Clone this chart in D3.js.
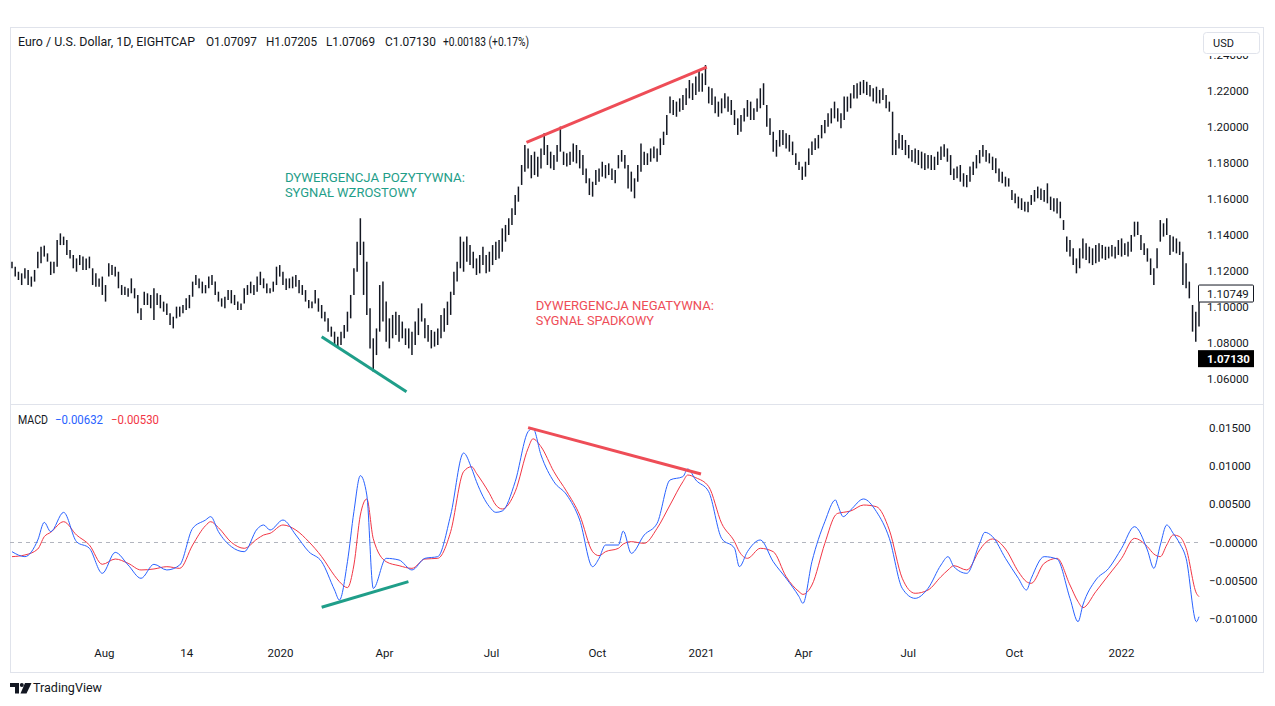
<!DOCTYPE html>
<html><head><meta charset="utf-8">
<script src="https://cdn.jsdelivr.net/npm/d3@7"></script>
<style>
html,body{margin:0;padding:0;background:#fff;}
svg{display:block;font-family:Roboto,"Open Sans",sans-serif;}
</style></head><body>
<svg id="c" width="1275" height="706"></svg>
<script>
// ---- DATA (2-trading-day bars, high / low) ----
const barHigh = [
1.1252,1.1224,1.1196,1.1187,1.1215,1.1206,1.1169,1.1206,1.1307,1.1335,
1.1341,1.1298,1.1252,1.1252,1.1372,1.1409,1.1391,1.1372,1.1317,1.1289,
1.1270,1.1289,1.1280,1.1270,1.1280,1.1215,1.1187,1.1159,1.1169,1.1122,
1.1243,1.1233,1.1224,1.1196,1.1122,1.1113,1.1104,1.1159,1.1104,1.1067,
1.0993,1.1085,1.1076,1.1067,1.1104,1.1076,1.1067,1.1030,1.1020,1.0965,
1.0946,1.1002,1.1002,1.1011,1.1048,1.1067,1.1141,1.1178,1.1159,1.1141,
1.1122,1.1169,1.1178,1.1141,1.1085,1.1048,1.1057,1.1094,1.1094,1.1067,
1.1030,1.1020,1.1104,1.1122,1.1141,1.1122,1.1169,1.1196,1.1159,1.1131,
1.1104,1.1141,1.1224,1.1233,1.1196,1.1159,1.1159,1.1169,1.1178,1.1150,
1.1122,1.1094,1.1039,1.1030,1.1094,1.1048,1.1011,1.0974,1.0937,1.0891,
1.0863,1.0835,1.0863,1.0900,1.0974,1.1067,1.1215,1.1363,1.1493,1.1363,
1.1252,1.0993,1.0826,1.0881,1.1122,1.1141,1.1030,1.0937,1.0956,1.0974,
1.0956,1.0919,1.0881,1.0881,1.0863,1.0919,1.0993,1.1020,1.0937,1.0900,
1.0872,1.0863,1.0881,1.0956,1.0993,1.1030,1.1085,1.1196,1.1252,1.1391,
1.1363,1.1391,1.1344,1.1307,1.1270,1.1289,1.1335,1.1289,1.1307,1.1344,
1.1363,1.1372,1.1437,1.1456,1.1493,1.1548,1.1622,1.1669,1.1789,1.1900,
1.1881,1.1844,1.1863,1.1835,1.1881,1.1965,1.1900,1.1863,1.1844,1.1900,
1.2002,1.1863,1.1854,1.1863,1.1909,1.1900,1.1872,1.1844,1.1770,1.1715,
1.1696,1.1761,1.1770,1.1807,1.1789,1.1798,1.1770,1.1761,1.1844,1.1872,
1.1844,1.1789,1.1752,1.1715,1.1789,1.1909,1.1863,1.1854,1.1881,1.1891,
1.1881,1.1937,1.1974,1.2067,1.2169,1.2150,1.2141,1.2159,1.2178,1.2215,
1.2261,1.2243,1.2280,1.2317,1.2298,1.2344,1.2224,1.2215,1.2169,1.2141,
1.2159,1.2187,1.2169,1.2150,1.2094,1.2048,1.2067,1.2104,1.2150,1.2141,
1.2104,1.2159,1.2215,1.2243,1.2122,1.2048,1.1974,1.1928,1.1983,1.1983,
1.1965,1.1956,1.1919,1.1854,1.1807,1.1780,1.1807,1.1881,1.1919,1.1937,
1.1956,1.2011,1.2039,1.2076,1.2104,1.2141,1.2104,1.2076,1.2169,1.2169,
1.2187,1.2233,1.2243,1.2252,1.2261,1.2252,1.2233,1.2215,1.2224,1.2206,
1.2215,1.2178,1.2141,1.2085,1.1928,1.1965,1.1956,1.1928,1.1900,1.1872,
1.1881,1.1872,1.1863,1.1854,1.1844,1.1844,1.1835,1.1863,1.1891,1.1904,
1.1881,1.1844,1.1770,1.1780,1.1789,1.1743,1.1733,1.1780,1.1807,1.1844,
1.1872,1.1900,1.1872,1.1854,1.1835,1.1826,1.1770,1.1752,1.1724,1.1715,
1.1650,1.1631,1.1613,1.1604,1.1585,1.1585,1.1622,1.1650,1.1669,1.1659,
1.1650,1.1687,1.1613,1.1604,1.1604,1.1585,1.1483,1.1391,1.1372,1.1326,
1.1270,1.1326,1.1381,1.1354,1.1335,1.1326,1.1344,1.1354,1.1344,1.1335,
1.1335,1.1344,1.1335,1.1372,1.1381,1.1354,1.1363,1.1400,1.1474,1.1474,
1.1400,1.1354,1.1326,1.1270,1.1215,1.1326,1.1483,1.1465,1.1493,1.1400,
1.1391,1.1381,1.1363,1.1307,1.1243,1.1141,1.1011,1.0974,1.1094];
const barLow = [
1.1215,1.1169,1.1150,1.1122,1.1159,1.1122,1.1113,1.1141,1.1215,1.1243,
1.1280,1.1252,1.1178,1.1187,1.1224,1.1344,1.1344,1.1289,1.1270,1.1215,
1.1196,1.1233,1.1206,1.1206,1.1215,1.1122,1.1113,1.1113,1.1067,1.1030,
1.1169,1.1178,1.1169,1.1104,1.1067,1.1067,1.1057,1.1076,1.1048,1.0965,
1.0928,1.1011,1.1011,1.0993,1.0928,1.1011,1.0993,1.0974,1.0956,1.0900,
1.0881,1.0937,1.0946,1.0965,1.0983,1.0993,1.1057,1.1122,1.1104,1.1076,
1.1076,1.1104,1.1122,1.1067,1.1030,1.1002,1.0993,1.1039,1.1020,1.1011,
1.0983,1.0983,1.1020,1.1067,1.1076,1.1067,1.1085,1.1122,1.1104,1.1076,
1.1076,1.1085,1.1122,1.1169,1.1122,1.1094,1.1104,1.1104,1.1113,1.1076,
1.1067,1.1030,1.0993,1.0993,1.1020,1.0974,1.0937,1.0919,1.0863,1.0835,
1.0789,1.0780,1.0789,1.0826,1.0863,1.0937,1.1067,1.1196,1.1289,1.1067,
1.0956,1.0770,1.0641,1.0733,1.0863,1.0919,1.0807,1.0770,1.0826,1.0844,
1.0807,1.0826,1.0789,1.0770,1.0733,1.0789,1.0844,1.0919,1.0826,1.0807,
1.0770,1.0780,1.0789,1.0826,1.0863,1.0900,1.0956,1.1067,1.1141,1.1215,
1.1196,1.1252,1.1233,1.1215,1.1178,1.1187,1.1233,1.1187,1.1196,1.1233,
1.1261,1.1270,1.1307,1.1363,1.1400,1.1456,1.1511,1.1585,1.1678,1.1752,
1.1770,1.1715,1.1733,1.1724,1.1770,1.1844,1.1789,1.1770,1.1761,1.1807,
1.1863,1.1789,1.1780,1.1789,1.1807,1.1798,1.1770,1.1733,1.1687,1.1622,
1.1613,1.1678,1.1696,1.1724,1.1715,1.1733,1.1706,1.1687,1.1770,1.1807,
1.1770,1.1659,1.1641,1.1604,1.1696,1.1752,1.1789,1.1789,1.1807,1.1826,
1.1807,1.1844,1.1900,1.1956,1.2076,1.2067,1.2057,1.2085,1.2094,1.2122,
1.2159,1.2150,1.2178,1.2196,1.2196,1.2233,1.2131,1.2122,1.2076,1.2057,
1.2076,1.2104,1.2085,1.2067,1.2011,1.1956,1.1974,1.2030,1.2057,1.2039,
1.2039,1.2085,1.2104,1.2122,1.2002,1.1956,1.1863,1.1835,1.1891,1.1900,
1.1881,1.1863,1.1844,1.1789,1.1761,1.1706,1.1724,1.1789,1.1844,1.1872,
1.1881,1.1937,1.1965,1.2002,1.2020,1.2048,1.2030,1.1993,1.2039,1.2085,
1.2104,1.2159,1.2159,1.2178,1.2187,1.2178,1.2169,1.2141,1.2131,1.2131,
1.2150,1.2104,1.2085,1.1844,1.1844,1.1881,1.1872,1.1844,1.1826,1.1807,
1.1798,1.1789,1.1770,1.1761,1.1770,1.1761,1.1761,1.1789,1.1817,1.1835,
1.1807,1.1733,1.1706,1.1715,1.1696,1.1669,1.1665,1.1696,1.1733,1.1770,
1.1798,1.1835,1.1807,1.1798,1.1761,1.1743,1.1696,1.1687,1.1669,1.1669,
1.1594,1.1576,1.1548,1.1539,1.1530,1.1526,1.1567,1.1585,1.1604,1.1594,
1.1585,1.1576,1.1539,1.1530,1.1520,1.1493,1.1428,1.1307,1.1280,1.1233,
1.1187,1.1215,1.1270,1.1261,1.1243,1.1233,1.1243,1.1252,1.1270,1.1261,
1.1270,1.1280,1.1270,1.1289,1.1280,1.1289,1.1280,1.1307,1.1391,1.1400,
1.1317,1.1289,1.1252,1.1178,1.1122,1.1215,1.1363,1.1391,1.1400,1.1289,
1.1307,1.1298,1.1289,1.1122,1.1104,1.1048,1.0863,1.0807,1.0891];

// MACD samples: bar position, MACD line, signal line
const macdBars = [0,4,8,10,12,16,20,24,28,32,36,40,44,48,52,56,60,61.6,64,68,72,76,78,80,84,88,92,96,100,101.5,104,106,108,110,112,116,120,124,128,132,136,140,142.5,144,148,150,152,156,160,161.5,164,168,172,176,180,182,184,188,189.5,192,196,200,204,208,209.5,212,216,220,224,225.5,228,232,236,240,244,245.2,248,252,255.3,256,257.7,260,264,268,272,276,280,284,288,290.2,292,296,300,301.6,304,308,312,314.5,316,320,324,328,330.5,332,336,340,344,348,352,354,356,358,360,362,364,367.2,368];
const macdValues = [-0.00120,-0.00185,0.00033,0.00263,0.00142,0.00394,0.00011,-0.00076,-0.00403,-0.00129,-0.00294,-0.00468,-0.00285,-0.00359,-0.00294,0.00185,0.00294,0.00338,0.00142,-0.00054,-0.00120,0.00176,0.00229,0.00163,0.00294,0.00098,-0.00120,-0.00251,-0.00621,-0.00752,-0.00251,0.00403,0.00874,0.00621,-0.00600,-0.00207,-0.00229,-0.00359,-0.00207,-0.00185,0.00359,0.01170,0.00969,0.00795,0.00468,0.00394,0.00412,0.00795,0.01449,0.01492,0.01144,0.00795,0.00621,0.00294,-0.00316,-0.00207,-0.00033,-0.00033,0.00150,-0.00142,0.00098,0.00251,0.00817,0.00861,0.00961,0.00817,0.00664,0.00054,-0.00076,-0.00316,-0.00120,0.00033,-0.00251,-0.00468,-0.00708,-0.00795,-0.00251,0.00272,0.00556,0.00490,0.00338,0.00425,0.00569,0.00403,0.00054,-0.00599,-0.00730,-0.00599,-0.00294,-0.00185,-0.00316,-0.00403,-0.00011,0.00133,0.00076,-0.00207,-0.00468,-0.00621,-0.00468,-0.00185,-0.00216,-0.00730,-0.01035,-0.00817,-0.00490,-0.00338,-0.00076,0.00207,-0.00098,-0.00338,-0.00033,0.00229,0.00120,-0.00011,-0.00207,-0.01035,-0.00970];
const signalValues = [-0.00185,-0.00163,-0.00085,0.00076,0.00133,0.00272,0.00098,-0.00033,-0.00285,-0.00216,-0.00272,-0.00359,-0.00346,-0.00316,-0.00338,-0.00033,0.00220,0.00272,0.00194,0.00002,-0.00076,0.00046,0.00098,0.00120,0.00229,0.00163,0.00011,-0.00185,-0.00434,-0.00512,-0.00590,-0.00294,0.00359,0.00569,0.00050,-0.00251,-0.00303,-0.00338,-0.00216,-0.00207,0.00142,0.00926,0.00991,0.00904,0.00643,0.00490,0.00438,0.00664,0.01231,0.01355,0.01253,0.00926,0.00664,0.00359,-0.00120,-0.00172,-0.00120,-0.00076,-0.00020,0.00011,-0.00011,0.00185,0.00490,0.00795,0.00882,0.00847,0.00730,0.00251,0.00011,-0.00120,-0.00207,-0.00076,-0.00120,-0.00447,-0.00643,-0.00678,-0.00556,-0.00011,0.00359,0.00381,0.00394,0.00412,0.00490,0.00468,0.00163,-0.00468,-0.00664,-0.00621,-0.00447,-0.00359,-0.00303,-0.00359,-0.00098,-0.00011,0.00046,-0.00085,-0.00381,-0.00512,-0.00534,-0.00272,-0.00207,-0.00556,-0.00773,-0.00852,-0.00643,-0.00425,-0.00207,0.00054,-0.00054,-0.00150,-0.00185,-0.00033,0.00098,0.00076,-0.00076,-0.00664,-0.00708];

const priceTicks = [1.06,1.08,1.10,1.12,1.14,1.16,1.18,1.20,1.22,1.24];
const macdTicks = [0.015,0.010,0.005,0,-0.005,-0.010];
const macdTickLabels = ["0.01500","0.01000","0.00500","\u22120.00000","\u22120.00500","\u22120.01000"];
const timeTickBars = [28.5,54,83.1,115.3,148.5,181.3,213.6,245.2,277.7,310.6,343.8];
const timeTickLabels = ["Aug","14","2020","Apr","Jul","Oct","2021","Apr","Jul","Oct","2022"];

const lastClose = 1.10749, currentPrice = 1.07130;
const headerParts = ["Euro / U.S. Dollar, 1D, EIGHTCAP","O1.07097","H1.07205","L1.07069","C1.07130","+0.00183 (+0.17%)"];
const legendParts = ["MACD","\u22120.00632","\u22120.00530"];

// divergence annotations in data coordinates [bar, value]
const posDivPrice = [[96.0,1.0835],[122.3,1.0529]];
const negDivPrice = [[159.5,1.1915],[215.4,1.2333]];
const posDivMacd = [[96.0,-0.00847],[122.9,-0.00512]];
const negDivMacd = [[160.0,0.01501],[213.6,0.00895]];
const posLabel = {bar:84.6, price:1.1692, lines:["DYWERGENCJA POZYTYWNA:","SYGNA\u0141 WZROSTOWY"]};
const negLabel = {bar:162.4, price:1.0983, lines:["DYWERGENCJA NEGATYWNA:","SYGNA\u0141 SPADKOWY"]};

// ---- DRAW ----
const svg = d3.select("#c");
const TXT = "#131722", GRID = "#e0e3eb";
const BLUE = "#2962ff", RED = "#f23645", TEAL = "#1f9e89", TRED = "#ee4d57";

const x = d3.scaleLinear().domain([0, barHigh.length - 1]).range([12, 1199]);
const yP = d3.scaleLinear().domain([1.06, 1.22]).range([379, 91]);
const yM = d3.scaleLinear().domain([-0.01, 0.015]).range([619, 427.75]);

// frame
svg.append("rect").attr("x",10.5).attr("y",27.5).attr("width",1253).attr("height",645)
  .attr("fill","none").attr("stroke",GRID);
svg.append("line").attr("x1",10).attr("x2",1264).attr("y1",404.5).attr("y2",404.5).attr("stroke",GRID);

// price bars (high-low lines)
svg.append("g").selectAll("line").data(barHigh).join("line")
  .attr("x1",(d,i)=>x(i)).attr("x2",(d,i)=>x(i))
  .attr("y1",d=>yP(d)).attr("y2",(d,i)=>Math.max(yP(d)+1,yP(barLow[i])))
  .attr("stroke",TXT).attr("stroke-width",1.5);

// price axis
svg.append("clipPath").attr("id","pclip").append("rect").attr("x",1195).attr("y",56).attr("width",70).attr("height",347);
const pax = svg.append("g").attr("clip-path","url(#pclip)").append("g").attr("transform","translate(1200,0)")
  .call(d3.axisRight(yP).tickValues(priceTicks).tickSize(0).tickPadding(7).tickFormat(d3.format(".5f")));
pax.select(".domain").remove();
pax.selectAll("text").attr("fill",TXT).attr("font-size","11.5px").attr("font-family","Roboto");

// last close label
const lc = svg.append("g");
lc.append("rect").attr("x",1198.5).attr("y",yP(lastClose)-8.5).attr("width",55).attr("height",17)
  .attr("fill","#fff").attr("stroke",TXT).attr("rx",1);
lc.append("text").attr("x",1207).attr("y",yP(lastClose)).attr("dy","0.35em").attr("font-size","11.5px")
  .attr("fill",TXT).text(d3.format(".5f")(lastClose));
const cp = svg.append("g");
cp.append("rect").attr("x",1198).attr("y",yP(currentPrice)-8.5).attr("width",56).attr("height",17).attr("fill","#000");
cp.append("text").attr("x",1207).attr("y",yP(currentPrice)).attr("dy","0.35em").attr("font-size","11.5px")
  .attr("font-weight","bold").attr("fill","#fff").text(d3.format(".5f")(currentPrice));

// USD button
svg.append("rect").attr("x",1203.5).attr("y",32.5).attr("width",56).attr("height",21).attr("rx",3)
  .attr("fill","#fff").attr("stroke",GRID);
svg.append("text").attr("x",1213).attr("y",43).attr("dy","0.35em").attr("font-size","11px").attr("fill",TXT).text("USD");

// header
const hx = [18,206,266,326,385,443], hw = [177,51,51,49,51,86];
svg.append("g").selectAll("text").data(headerParts).join("text")
  .attr("x",(d,i)=>hx[i]).attr("y",42).attr("dy","0.35em").attr("font-size","12px").attr("fill",TXT)
  .attr("textLength",(d,i)=>hw[i]).attr("lengthAdjust","spacingAndGlyphs").text(d=>d);

// annotations (price pane)
const ln = d3.line().x(d=>x(d[0]));
svg.append("path").attr("d",ln.y(d=>yP(d[1]))(posDivPrice)).attr("stroke",TEAL).attr("stroke-width",3).attr("fill","none");
svg.append("path").attr("d",ln.y(d=>yP(d[1]))(negDivPrice)).attr("stroke",TRED).attr("stroke-width",3).attr("fill","none");
function label(o, col, widths){
  svg.append("g").selectAll("text").data(o.lines).join("text")
    .attr("x",x(o.bar)).attr("y",(d,i)=>yP(o.price)+i*14.5).attr("font-size","13.5px").attr("fill",col)
    .attr("textLength",(d,i)=>widths[i]).attr("lengthAdjust","spacingAndGlyphs").text(d=>d);
}
label(posLabel, TEAL, [180,132]);
label(negLabel, TRED, [178,118]);

// MACD pane
svg.append("line").attr("x1",10).attr("x2",1198).attr("y1",yM(0)).attr("y2",yM(0))
  .attr("stroke","#b2b5be").attr("stroke-dasharray","4,4");
const mline = d3.line().x((d,i)=>x(macdBars[i])).y(d=>yM(d)).curve(d3.curveMonotoneX);
svg.append("path").attr("d",mline(signalValues)).attr("stroke",RED).attr("stroke-width",1).attr("fill","none");
svg.append("path").attr("d",mline(macdValues)).attr("stroke",BLUE).attr("stroke-width",1).attr("fill","none");
svg.append("path").attr("d",ln.y(d=>yM(d[1]))(posDivMacd)).attr("stroke",TEAL).attr("stroke-width",3).attr("fill","none");
svg.append("path").attr("d",ln.y(d=>yM(d[1]))(negDivMacd)).attr("stroke",TRED).attr("stroke-width",3).attr("fill","none");

const max = svg.append("g").attr("transform","translate(1200,0)")
  .call(d3.axisRight(yM).tickValues(macdTicks).tickSize(0).tickPadding(9).tickFormat((d,i)=>macdTickLabels[i]));
max.select(".domain").remove();
max.selectAll("text").attr("fill",TXT).attr("font-size","11.5px").attr("font-family","Roboto");

// MACD legend
const lx=[18,55,111], lw=[30,48,48], lcols=[TXT,BLUE,RED];
svg.append("g").selectAll("text").data(legendParts).join("text")
  .attr("x",(d,i)=>lx[i]).attr("y",420).attr("dy","0.35em").attr("font-size","12px")
  .attr("fill",(d,i)=>lcols[i]).attr("textLength",(d,i)=>lw[i]).attr("lengthAdjust","spacingAndGlyphs").text(d=>d);

// time axis
const tax = svg.append("g").attr("transform","translate(0,650)")
  .call(d3.axisBottom(x).tickValues(timeTickBars).tickSize(0).tickPadding(0).tickFormat((d,i)=>timeTickLabels[i]));
tax.select(".domain").remove();
tax.selectAll("text").attr("fill",TXT).attr("font-size","11.5px").attr("font-family","Roboto").attr("dy","0.6em");

// TradingView logo
const logo = svg.append("g").attr("transform","translate(10,683)");
logo.append("path").attr("d","M0 0 H9 V10.5 H5 V4 H0 Z").attr("fill",TXT);
logo.append("circle").attr("cx",11.8).attr("cy",2).attr("r",2).attr("fill",TXT);
logo.append("path").attr("d","M15 0 H21.5 L16.5 10.5 H10.5 Z").attr("fill",TXT);
svg.append("text").attr("x",33).attr("y",688).attr("dy","0.35em").attr("font-size","12.5px").attr("fill",TXT)
  .attr("textLength",69).attr("lengthAdjust","spacingAndGlyphs").text("TradingView");
</script>
</body></html>
